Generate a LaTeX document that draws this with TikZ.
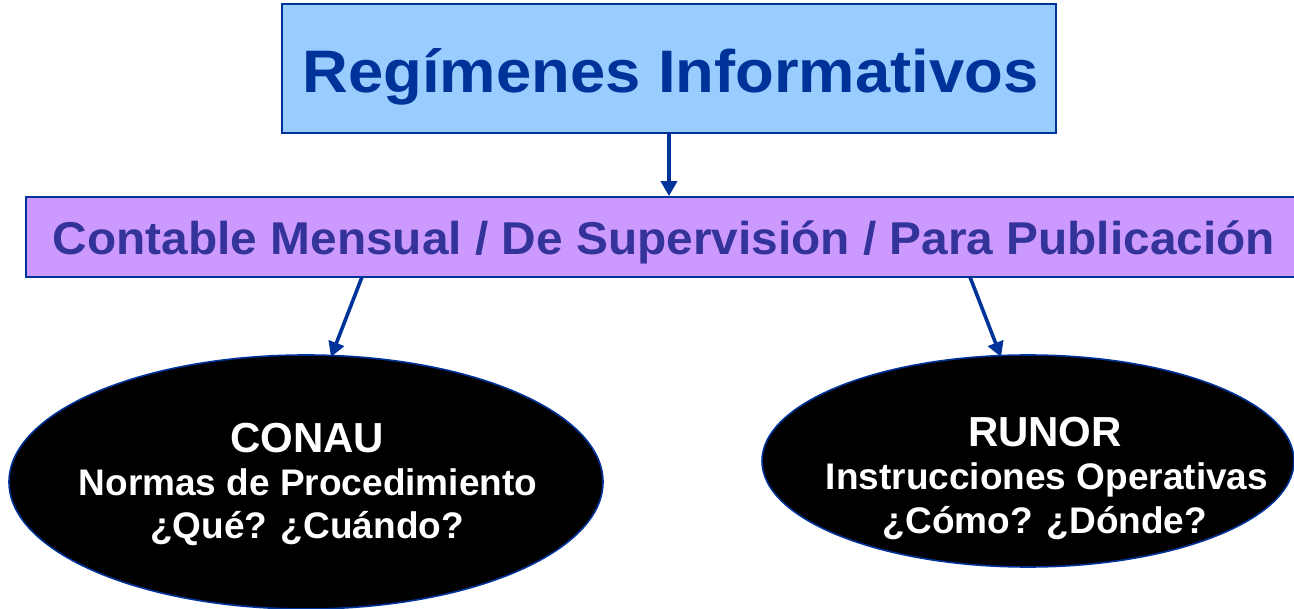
\documentclass[tikz,border=0pt]{standalone}
\usepackage{fontspec}
\setmainfont{Liberation Sans}
\usetikzlibrary{shapes.geometric,arrows.meta}
\definecolor{navy}{HTML}{003399}
\definecolor{skyfill}{HTML}{99CCFF}
\definecolor{lilac}{HTML}{CC99FF}
\definecolor{indigo}{HTML}{333399}
\tikzset{
  titlebox/.style={draw=navy, line width=1.8pt, fill=skyfill, inner sep=0pt},
  midbox/.style={draw=navy, line width=1.8pt, fill=lilac, inner sep=0pt},
  oval/.style={ellipse, draw=navy, line width=1.6pt, fill=black, inner sep=0pt},
  ovalhead/.style={text=white, anchor=base, inner sep=0pt, font=\bfseries\fontsize{42}{48}\selectfont},
  ovalline/.style={text=white, anchor=base, inner sep=0pt, font=\bfseries\fontsize{37}{44}\selectfont},
  arr/.style={draw=navy, line width=3.6pt, -{Triangle[length=15pt,width=16pt]}}
}
\begin{document}
\begin{tikzpicture}[x=1pt,y=-1pt]
\useasboundingbox (0,0) rectangle (1294,609);
\node[titlebox, minimum width=774pt, minimum height=129pt] (top) at (669,68.5) {};
\node[text=navy, anchor=base, inner sep=0pt, font=\bfseries\fontsize{60}{70}\selectfont] (toptext) at (670.5,93) {\resizebox{736pt}{\height}{Regímenes Informativos}};
\node[midbox, minimum width=1276pt, minimum height=80pt] (mid) at (664,237) {};
\node[text=indigo, anchor=base, inner sep=0pt, font=\bfseries\fontsize{46}{50}\selectfont] (midtext) at (664,255) {\resizebox{1222pt}{\height}{Contable Mensual / De Supervisión / Para Publicación}};
\node[oval, minimum width=594pt, minimum height=254pt] (conau) at (306,482) {};
\node[oval, minimum width=532pt, minimum height=212pt] (runor) at (1028,461) {};
\node[ovalhead] (conau1) at (307,453) {CONAU};
\node[ovalline] (conau2) at (308,496) {Normas de Procedimiento};
\node[ovalline] (conau3) at (307,539) {¿Qué? ¿Cuándo?};
\node[ovalhead] (runor1) at (1045,447) {RUNOR};
\node[ovalline] (runor2) at (1047,490) {Instrucciones Operativas};
\node[ovalline] (runor3) at (1045,533) {¿Cómo? ¿Dónde?};
\coordinate (a1) at (362,277);
\coordinate (b1) at (331,357);
\coordinate (a2) at (970,277);
\coordinate (b2) at (1001,357);
\draw[arr] (top.south) -- (top.south |- mid.north);
\draw[arr] (a1) -- (b1);
\draw[arr] (a2) -- (b2);
\end{tikzpicture}
\end{document}
